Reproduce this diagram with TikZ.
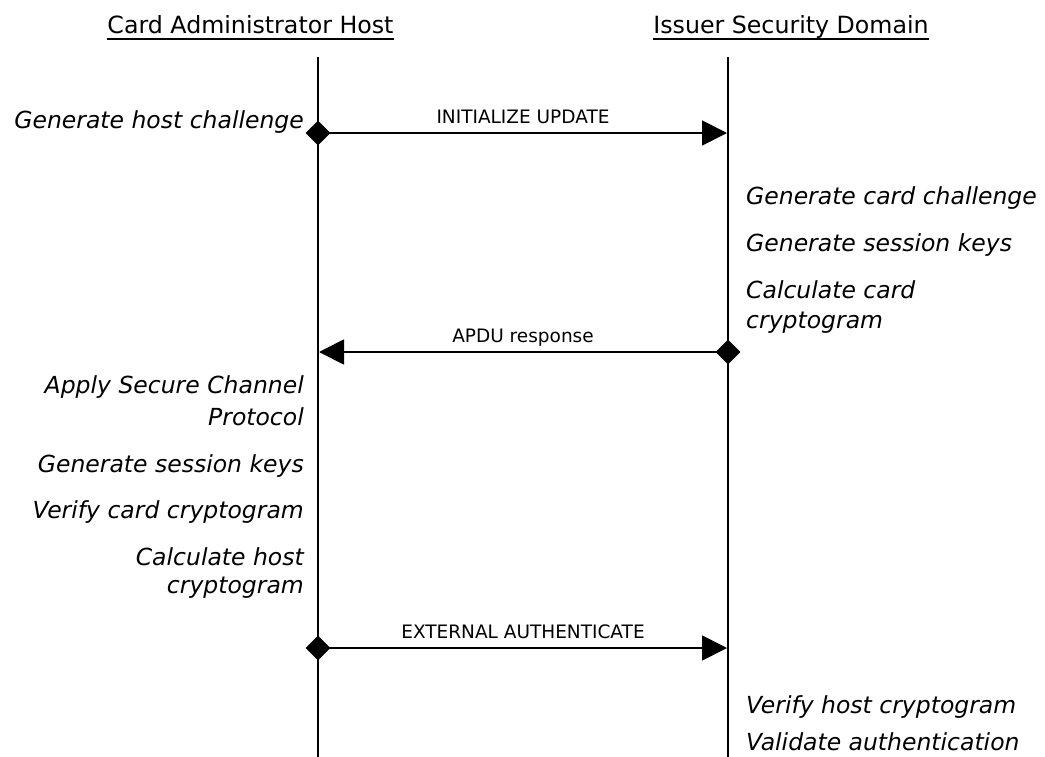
\documentclass[tikz,border=0pt]{standalone}
\usepackage{fontspec}
\setmainfont{DejaVu Sans}
\usetikzlibrary{arrows.meta,shapes.geometric}
\begin{document}
\begin{tikzpicture}[x=1pt,y=-1pt,
  title/.style={font=\fontsize{23.7}{28}\selectfont, inner sep=0pt, anchor=base},
  actl/.style={font=\fontsize{23.5}{28}\selectfont\itshape, inner sep=0pt, anchor=base east},
  actr/.style={font=\fontsize{23.5}{28}\selectfont\itshape, inner sep=0pt, anchor=base west},
  msglabel/.style={font=\fontsize{18.5}{22}\selectfont, inner sep=0pt, anchor=base},
  life/.style={line width=1.8pt},
  msg/.style={line width=1.8pt, -{Triangle[length=25pt,width=25pt]}},
  dia/.style={diamond, fill=black, draw=none, inner sep=0pt, minimum width=25pt, minimum height=25pt}]
\useasboundingbox (0,0) rectangle (1045,756);
% titles
\node[title] (t1) at (250.5,33) {Card Administrator Host};
\node[title] (t2) at (791,33) {Issuer Security Domain};
\draw[line width=2pt] ([yshift=-5.5pt]t1.base west) -- ([yshift=-5.5pt]t1.base east);
\draw[line width=2pt] ([yshift=-5.5pt]t2.base west) -- ([yshift=-5.5pt]t2.base east);
% lifelines
\coordinate (Ltop) at (318,57);
\coordinate (Lbot) at (318,757);
\coordinate (Rtop) at (728,57);
\coordinate (Rbot) at (728,757);
\draw[life] (Ltop) -- (Lbot);
\draw[life] (Rtop) -- (Rbot);
% message 1
\node[dia] (d1) at (318,133) {};
\coordinate (e1) at (727,133);
\draw[msg] (d1.center) -- (e1);
\node[msglabel] (l1) at (523,123) {INITIALIZE UPDATE};
% message 2
\node[dia] (d2) at (728,352) {};
\coordinate (e2) at (319,352);
\draw[msg] (d2.center) -- (e2);
\node[msglabel] (l2) at (523,342) {APDU response};
% message 3
\node[dia] (d3) at (318,648) {};
\coordinate (e3) at (727,648);
\draw[msg] (d3.center) -- (e3);
\node[msglabel] (l3) at (523,638) {EXTERNAL AUTHENTICATE};
% host activities
\node[actl] (h1) at (304,128) {Generate host challenge};
\node[actl] (h2a) at (304,393) {Apply Secure Channel};
\node[actl] (h2b) at (304,425) {Protocol};
\node[actl] (h3) at (304,472) {Generate session keys};
\node[actl] (h4) at (304,518) {Verify card cryptogram};
\node[actl] (h5a) at (304,565) {Calculate host};
\node[actl] (h5b) at (304,593) {cryptogram};
% card activities
\node[actr] (c1) at (746,204) {Generate card challenge};
\node[actr] (c2) at (746,251) {Generate session keys};
\node[actr] (c3a) at (746,298) {Calculate card};
\node[actr] (c3b) at (746,328) {cryptogram};
\node[actr] (c4) at (746,713) {Verify host cryptogram};
\node[actr] (c5) at (746,750) {Validate authentication};
\end{tikzpicture}
\end{document}
